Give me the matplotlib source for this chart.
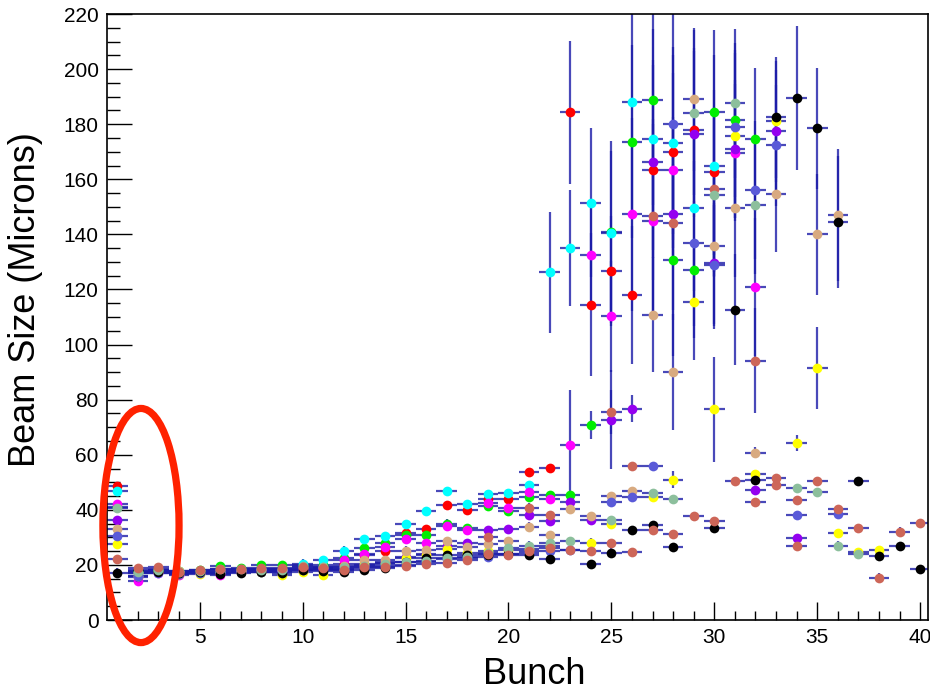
import matplotlib
matplotlib.use("Agg")
import matplotlib.pyplot as plt
from matplotlib.patches import Ellipse
from matplotlib.ticker import MultipleLocator

N = None
bunches = list(range(1, 41))

black = [17.2, 18.3, 17.5, 17.0, 17.3, 16.8, 17.0, 17.4, 17.0, 18.0,
         17.8, 17.6, 18.3, 18.8, 21.0, 22.4, 23.6, 23.6, 23.5, 23.8,
         23.6, 22.1, N, 20.3, 24.5, 32.7, 34.5, 26.4, N, 33.3,
         112.7, 50.9, 182.5, 189.5, 178.5, 144.5, 50.3, 23.3, 26.7, 18.5]
red = [48.5, 17.5, 18.0, 17.5, 17.6, 17.8, 18.0, 18.3, 18.4, 18.6,
       19.0, 20.5, 23.5, 25.0, 31.7, 33.0, 41.8, 40.0, 44.0, 44.0,
       53.7, 55.2, 184.3, 114.4, 126.7, 118.0, 163.4, 170.0, 177.8, 162.5,
       N, N, N, N, N, N, N, N, N, N]
green = [41.0, 17.8, 18.3, 17.8, 18.0, 19.5, 18.8, 20.0, 20.0, 20.0,
         19.8, 22.5, 26.0, 28.0, 31.0, 30.7, 35.0, 33.5, 41.5, 39.4,
         44.6, 45.5, 45.5, 70.7, 141.0, 173.6, 188.7, 130.7, 127.2, 184.3,
         181.6, 174.5, N, N, N, N, N, N, N, N]
yellow = [27.6, 16.0, 17.6, 16.8, 16.8, 17.0, 17.3, 17.6, 16.5, 17.6,
          16.4, 18.0, 20.5, 20.8, 22.4, 23.5, 25.7, 24.5, 25.0, 25.5,
          25.8, 27.0, N, 28.1, 34.9, N, 44.8, 51.0, 115.4, 76.5,
          175.8, 53.1, 181.0, 64.2, 91.5, 31.5, 24.8, 25.5, N, N]
magenta = [42.2, 14.3, 17.0, 16.2, 17.0, 16.5, 17.4, 17.8, 17.8, 18.2,
           18.6, 21.8, 24.0, 26.4, 29.3, 28.1, 34.2, 32.5, 42.3, 40.8,
           46.4, 44.0, 63.4, 132.5, 110.2, 147.3, 145.0, 163.5, N, N,
           169.7, 121.0, N, N, N, N, N, N, N, N]
cyan = [47.0, 17.0, 17.8, 17.3, 17.5, 17.6, 17.7, 18.5, 18.6, 20.5,
        21.8, 25.2, 29.3, 30.5, 34.9, 39.7, 46.7, 42.2, 45.6, 46.0,
        48.9, 126.3, 135.0, 151.5, 140.4, 188.0, 174.5, 173.0, 149.6, 165.0,
        N, N, N, N, N, N, N, N, N, N]
purple = [36.4, 15.5, 17.3, 16.8, 17.2, 17.0, 17.5, 17.8, 17.7, 18.0,
          18.4, 19.0, 20.0, 21.0, 23.0, 24.0, 27.0, 28.0, 32.5, 33.0,
          38.2, 36.0, 43.0, 36.2, 72.7, 76.7, 166.4, 147.5, 176.4, 129.5,
          170.9, 47.3, 177.6, 29.7, N, N, N, N, N, N]
tan = [33.0, 17.2, 18.4, 17.8, 17.8, 18.0, 18.1, 18.4, 18.3, 18.8,
       19.2, 19.6, 21.8, 21.8, 25.2, 25.5, 28.5, 26.4, 27.5, 28.7,
       33.9, 30.9, 40.2, 37.7, 45.1, 46.9, 110.9, 90.0, 189.0, 135.8,
       149.7, 60.8, 154.5, N, 140.0, 147.0, N, N, N, N]
salmon = [22.0, 18.8, 19.2, 17.6, 18.2, 18.4, 18.4, 18.8, 18.8, 19.2,
          18.8, 18.2, 19.2, 19.2, 19.6, 20.4, 20.8, 21.8, 23.8, 23.5,
          25.2, 26.0, 25.5, 25.1, 27.9, 24.8, 32.7, 31.2, 37.6, 36.0,
          50.3, 42.8, 51.5, 43.4, 50.3, 40.2, 33.3, 15.4, 32.1, 35.2]
salmon2 = [N, N, N, N, N, N, N, N, N, N,
           N, N, N, N, N, N, N, N, 30.0, N,
           40.8, 38.2, N, N, 75.4, 55.8, 146.7, 144.0, N, 156.4,
           N, 94.2, 49.1, 26.9, N, N, N, N, N, N]
seagreen = [40.5, 17.5, 18.0, 17.5, 17.8, 18.5, 18.6, 18.0, 18.2, 19.5,
            19.4, 19.2, 19.6, 20.4, 21.0, 21.5, 22.5, 23.0, 24.5, 26.0,
            27.0, 28.0, 28.5, N, 36.4, N, 46.0, 44.0, 184.2, 154.4,
            187.6, 150.7, N, 47.9, 46.4, 27.0, 24.0, N, N, N]
slateblue = [30.5, 15.8, 17.0, 16.8, 17.0, 17.0, 17.3, 17.6, 17.5, 18.0,
             18.2, 18.5, 19.0, 19.5, 20.0, 21.0, 22.0, 22.5, 23.0, 24.0,
             24.5, 25.0, 25.5, N, 43.0, 44.6, 56.0, 180.2, 136.8, 128.7,
             178.8, 156.1, 172.4, 38.2, N, 38.6, N, N, N, N]

# vertical errors (bunch -> error); other points use the small default error
default_err = 1.5
black_err = {31: 20, 33: 22, 34: 26, 35: 22, 36: 24}
red_err = {23: 26, 24: 26, 25: 20, 26: 25, 27: 40, 28: 35, 29: 30, 30: 30}
green_err = {24: 5, 25: 33, 26: 35, 27: 38, 28: 35, 29: 25, 30: 30, 31: 28, 32: 26}
yellow_err = {28: 3, 29: 21, 30: 19, 31: 30, 33: 22, 34: 3, 35: 15}
magenta_err = {23: 20, 24: 20, 25: 20, 26: 35, 27: 35, 28: 35, 31: 25, 32: 25}
cyan_err = {22: 22, 23: 21, 24: 27, 25: 30, 26: 40, 27: 40, 28: 35, 29: 30, 30: 40}
purple_err = {25: 18, 26: 5, 27: 35, 28: 35, 29: 30, 30: 22, 31: 25, 33: 22}
tan_err = {27: 21, 28: 21, 29: 26, 30: 30, 31: 25, 32: 2, 33: 21, 35: 22, 36: 24}
salmon_err = {}
salmon2_err = {25: 8, 27: 35, 28: 35, 30: 30, 32: 19}
seagreen_err = {29: 30, 30: 30, 31: 27, 32: 25}
slateblue_err = {28: 40, 29: 30, 30: 22, 31: 28, 32: 25, 33: 22}
bunch_half_width = 0.5

# draw order and colours
series = [
    (red, red_err, "#ff0000"),
    (green, green_err, "#00ee00"),
    (cyan, cyan_err, "#00ffff"),
    (magenta, magenta_err, "#ff00ff"),
    (purple, purple_err, "#9400f0"),
    (yellow, yellow_err, "#ffff00"),
    (tan, tan_err, "#d8aa80"),
    (slateblue, slateblue_err, "#5a5ad8"),
    (black, black_err, "#000000"),
    (salmon2, salmon2_err, "#cd6658"),
    (seagreen, seagreen_err, "#8cbf9c"),
    (salmon, salmon_err, "#cd6658"),
]

plt.rcParams["font.family"] = ["Liberation Sans", "DejaVu Sans"]
fig = plt.figure(figsize=(9.30, 6.91), dpi=100)
ax = fig.add_axes([107 / 930, 1 - 620 / 691, (928 - 107) / 930, (620 - 14) / 691])

bar_color = "#1c1ca8"
for vals, errs, col in series:
    xs = [b for b, v in zip(bunches, vals) if v is not None]
    ys = [v for v in vals if v is not None]
    es = [errs.get(b, default_err) for b in xs]
    ax.errorbar(xs, ys, yerr=es, xerr=bunch_half_width, fmt="none",
                ecolor=bar_color, elinewidth=1.6, alpha=0.8, capsize=0, zorder=2)
for vals, errs, col in series:
    xs = [b for b, v in zip(bunches, vals) if v is not None]
    ys = [v for v in vals if v is not None]
    ax.plot(xs, ys, "o", color=col, markersize=7.0, markeredgewidth=0, zorder=3)

ax.set_xlim(0.5, 40.38)
ax.set_ylim(0, 220)
ax.xaxis.set_major_locator(MultipleLocator(5))
ax.xaxis.set_minor_locator(MultipleLocator(1))
ax.yaxis.set_major_locator(MultipleLocator(20))
ax.yaxis.set_minor_locator(MultipleLocator(5))
ax.tick_params(axis="x", which="major", direction="in", length=13, width=1,
               labelsize=15, pad=6)
ax.tick_params(axis="x", which="minor", direction="in", length=6.5, width=1)
ax.tick_params(axis="y", which="major", direction="in", length=18, width=1,
               labelsize=15, pad=6)
ax.tick_params(axis="y", which="minor", direction="in", length=9, width=1)
for sp in ax.spines.values():
    sp.set_linewidth(1.2)

ax.set_xlabel("Bunch", fontsize=26, va="center")
ax.set_ylabel("Beam Size (Microns)", fontsize=26, va="center")
ax.xaxis.set_label_coords(0.52, (620 - 674) / 606)
ax.yaxis.set_label_coords((26 - 107) / 821, (620 - 300) / 606)

ell = Ellipse((2.15, 34.3), 3.7, 85, fill=False, edgecolor="#ff2200",
              linewidth=5.2, clip_on=False, zorder=5)
ax.add_patch(ell)

fig.savefig("out.png", dpi=100)
